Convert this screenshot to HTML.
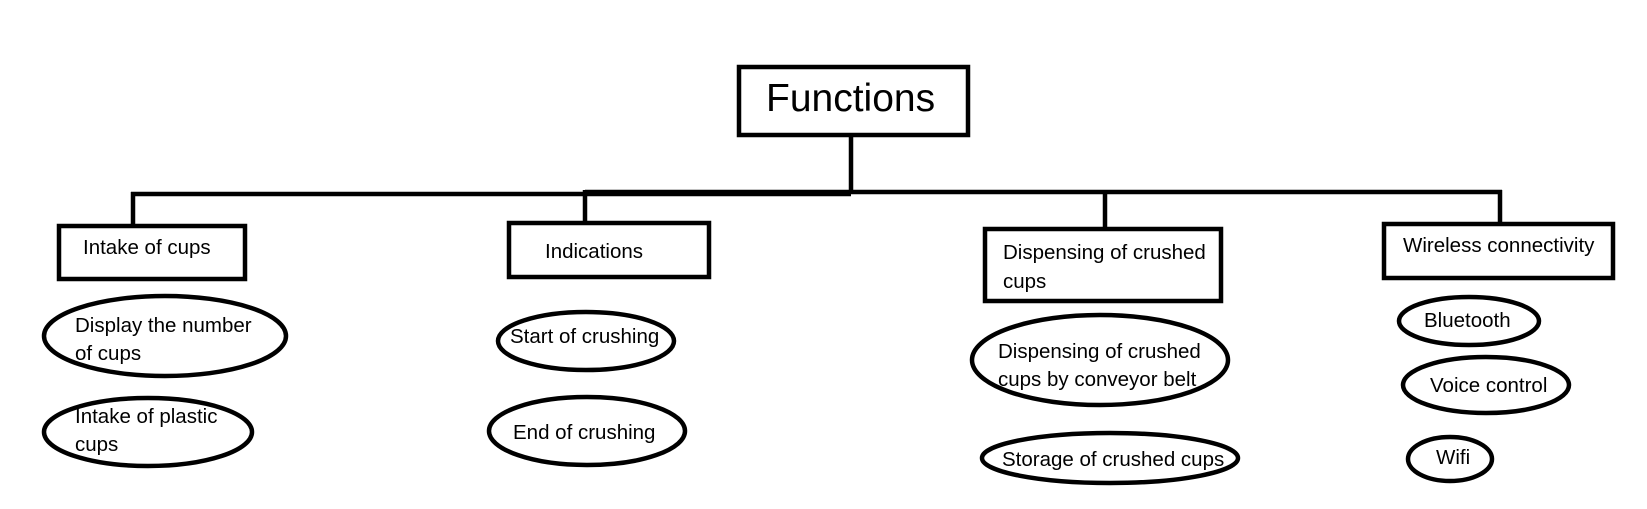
<!DOCTYPE html>
<html><head><meta charset="utf-8"><style>
html,body{margin:0;padding:0;background:#fff;}
svg{display:block;}
text{font-family:"Liberation Sans",sans-serif;font-size:20.5px;fill:#000;}
</style></head><body>
<svg width="1647" height="509" viewBox="0 0 1647 509" xmlns="http://www.w3.org/2000/svg">
<g fill="none" stroke="#000" stroke-width="4.5">
<rect x="739" y="67" width="229" height="68"/>
<line x1="851" y1="135" x2="851" y2="194"/>
<line x1="131" y1="194" x2="851" y2="194"/>
<line x1="585" y1="192" x2="1502" y2="192"/>
<line x1="133" y1="192" x2="133" y2="226"/>
<line x1="585" y1="190" x2="585" y2="223"/>
<line x1="1105" y1="190" x2="1105" y2="229"/>
<line x1="1500" y1="190" x2="1500" y2="224"/>
<rect x="59" y="226" width="186" height="53"/>
<rect x="509" y="223" width="200" height="54"/>
<rect x="985" y="229" width="236" height="72"/>
<rect x="1384" y="224" width="229" height="54"/>
<ellipse cx="165" cy="336" rx="121" ry="40"/>
<ellipse cx="148" cy="432" rx="104" ry="34"/>
<ellipse cx="586" cy="341" rx="88" ry="29"/>
<ellipse cx="587" cy="431" rx="98" ry="34"/>
<ellipse cx="1100" cy="360" rx="128" ry="45"/>
<ellipse cx="1110" cy="458" rx="128" ry="25"/>
<ellipse cx="1469" cy="321" rx="70" ry="24"/>
<ellipse cx="1486" cy="385" rx="83" ry="28"/>
<ellipse cx="1450" cy="459" rx="42" ry="22"/>
</g>
<text x="766" y="111" style="font-size:39px">Functions</text>
<text x="83" y="254">Intake of cups</text>
<text x="545" y="258">Indications</text>
<text x="1003" y="259">Dispensing of crushed</text>
<text x="1003" y="288">cups</text>
<text x="1403" y="252">Wireless connectivity</text>
<text x="75" y="332">Display the number</text>
<text x="75" y="360">of cups</text>
<text x="75" y="423">Intake of plastic</text>
<text x="75" y="451">cups</text>
<text x="510" y="343">Start of crushing</text>
<text x="513" y="439">End of crushing</text>
<text x="998" y="358">Dispensing of crushed</text>
<text x="998" y="386">cups by conveyor belt</text>
<text x="1002" y="466">Storage of crushed cups</text>
<text x="1424" y="327">Bluetooth</text>
<text x="1430" y="392">Voice control</text>
<text x="1436" y="464">Wifi</text>
</svg>
</body></html>
